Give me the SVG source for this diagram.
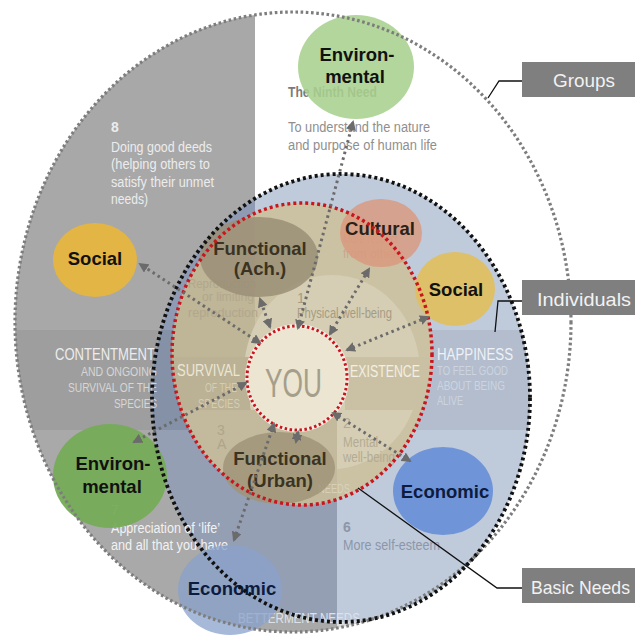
<svg xmlns="http://www.w3.org/2000/svg" width="635" height="640" viewBox="0 0 635 640">
<style>
.bg{font-family:"Liberation Sans Narrow","Liberation Sans",Arial,sans-serif}
.nl{font-family:"Liberation Sans",Arial,sans-serif;font-weight:bold;font-size:18.5px;text-anchor:middle;fill:#111}
.fn{fill:#3b3322}
.ec{fill:#0d1b3e}
.cl{font-family:"Liberation Sans",Arial,sans-serif;font-size:19px;fill:#f2f2f2}
.box{fill:#7f7f7f}
.lead{fill:none;stroke:#111;stroke-width:1.3}
.conn{fill:none;stroke:#6b6b6b;stroke-width:3;stroke-dasharray:2.5 3.5;marker-end:url(#ah);marker-start:url(#ah)}
</style>
<defs>
<clipPath id="cOuter"><ellipse cx="293" cy="322" rx="278" ry="310"/></clipPath>
<clipPath id="cBlack"><ellipse cx="341" cy="398" rx="189" ry="224"/></clipPath>
<clipPath id="cRed"><ellipse cx="302" cy="354" rx="130" ry="151"/></clipPath>
<marker id="ah" viewBox="0 0 10 10" refX="8" refY="5" markerWidth="10" markerHeight="10" markerUnits="userSpaceOnUse" orient="auto-start-reverse"><path d="M0,0 L10,5 L0,10 z" fill="#6b6b6b"/></marker>
</defs>
<rect width="635" height="640" fill="#ffffff"/>
<g id="background">
<g clip-path="url(#cOuter)">
<rect x="0" y="0" width="255" height="330" fill="#a8a8a8"/>
<rect x="0" y="330" width="255" height="100" fill="#9e9e9e"/>
<rect x="0" y="430" width="337" height="210" fill="#a9a9a9"/>
<rect x="337" y="560" width="120" height="80" fill="#dadada"/>
</g>
<g clip-path="url(#cBlack)">
<rect x="150" y="170" width="390" height="460" fill="#bfcadb"/>
<rect x="337" y="330" width="200" height="100" fill="#b3bdcd"/>
<rect x="150" y="170" width="105" height="260" fill="#8e9bb2"/>
<rect x="150" y="330" width="105" height="100" fill="#8491a6"/>
<rect x="150" y="430" width="187" height="200" fill="#959fb4"/>
</g>
<g clip-path="url(#cRed)">
<rect x="170" y="200" width="265" height="310" fill="#cbc1a3"/>
<rect x="170" y="200" width="85" height="210" fill="#bfb597"/>
<ellipse cx="332" cy="372" rx="88" ry="97" fill="#d6ceb4"/>
<rect x="170" y="410" width="167" height="100" fill="#c3b99c"/>
<rect x="170" y="357" width="80" height="53" fill="#bbb194"/>
<rect x="345" y="357" width="90" height="53" fill="#cac1a4"/>
</g>
<ellipse cx="297" cy="378" rx="50" ry="52" fill="#ebe5d1"/>
</g>
<g id="bg-texts" class="bg">
<text x="288" y="97" font-size="14" font-weight="bold" fill="#7a7a7a" textLength="89" lengthAdjust="spacingAndGlyphs">The Ninth Need</text>
<text x="288" y="132" font-size="14" fill="#8f8f8f" textLength="142" lengthAdjust="spacingAndGlyphs">To understand the nature</text>
<text x="288" y="150" font-size="14" fill="#8f8f8f" textLength="149" lengthAdjust="spacingAndGlyphs">and purpose of human life</text>
<g fill="#ececec" font-size="14">
<text x="111" y="132" font-weight="bold">8</text>
<text x="111" y="152" textLength="101" lengthAdjust="spacingAndGlyphs">Doing good deeds</text>
<text x="111" y="169" textLength="99" lengthAdjust="spacingAndGlyphs">(helping others to</text>
<text x="111" y="187" textLength="103" lengthAdjust="spacingAndGlyphs">satisfy their unmet</text>
<text x="111" y="204" textLength="37" lengthAdjust="spacingAndGlyphs">needs)</text>
</g>
<text x="55" y="360" font-size="16" fill="#ededed" textLength="100" lengthAdjust="spacingAndGlyphs">CONTENTMENT</text>
<g fill="#d6d6d6" font-size="13">
<text x="81" y="376" textLength="76" lengthAdjust="spacingAndGlyphs">AND ONGOING</text>
<text x="68" y="392" textLength="89" lengthAdjust="spacingAndGlyphs">SURVIVAL OF THE</text>
<text x="114" y="408" textLength="43" lengthAdjust="spacingAndGlyphs">SPECIES</text>
</g>
<text x="177" y="376" font-size="16" fill="#ebe6d6" textLength="63" lengthAdjust="spacingAndGlyphs">SURVIVAL</text>
<text x="205" y="392" font-size="13" fill="#d5cdb6" textLength="32" lengthAdjust="spacingAndGlyphs">OF THE</text>
<text x="198" y="408" font-size="13" fill="#d5cdb6" textLength="42" lengthAdjust="spacingAndGlyphs">SPECIES</text>
<text x="350" y="377" font-size="16" fill="#f3efe2" textLength="70" lengthAdjust="spacingAndGlyphs">EXISTENCE</text>
<text x="437" y="360" font-size="16" fill="#eef1f6" textLength="76" lengthAdjust="spacingAndGlyphs">HAPPINESS</text>
<g fill="#cdd4e0" font-size="13">
<text x="437" y="375" textLength="71" lengthAdjust="spacingAndGlyphs">TO FEEL GOOD</text>
<text x="437" y="390" textLength="68" lengthAdjust="spacingAndGlyphs">ABOUT BEING</text>
<text x="437" y="405" textLength="26" lengthAdjust="spacingAndGlyphs">ALIVE</text>
</g>
<text x="297" y="303" font-size="14" fill="#a59c83">1</text>
<text x="297" y="318" font-size="14" fill="#a59c83" textLength="95" lengthAdjust="spacingAndGlyphs">Physical well-being</text>
<g fill="#b1a78c" font-size="13">
<text x="188" y="288" textLength="68" lengthAdjust="spacingAndGlyphs">Reproduction</text>
<text x="202" y="301" textLength="52" lengthAdjust="spacingAndGlyphs">or limiting</text>
<text x="188" y="317" textLength="70" lengthAdjust="spacingAndGlyphs">reproduction</text>
</g>
<text x="343" y="243" font-size="13" fill="#c8a890" textLength="55" lengthAdjust="spacingAndGlyphs">More respect</text>
<text x="343" y="258" font-size="13" fill="#c8a890" textLength="60" lengthAdjust="spacingAndGlyphs">from others</text>
<g fill="#b3ab93" font-size="14">
<text x="343" y="428">2</text>
<text x="343" y="447" textLength="35" lengthAdjust="spacingAndGlyphs">Mental</text>
<text x="343" y="462" textLength="52" lengthAdjust="spacingAndGlyphs">well-being</text>
</g>
<text x="217" y="435" font-size="14" fill="#ada58c">3</text>
<text x="217" y="449" font-size="14" fill="#ada58c">A</text>
<text x="318" y="493" font-size="13" fill="#e0d9c4" opacity="0.7" textLength="32" lengthAdjust="spacingAndGlyphs">NEEDS</text>
<g fill="#f2f2f2" font-size="14">
<text x="111" y="515">7</text>
<text x="111" y="533" textLength="109" lengthAdjust="spacingAndGlyphs">Appreciation of ‘life’</text>
<text x="111" y="550" textLength="117" lengthAdjust="spacingAndGlyphs">and all that you have</text>
</g>
<g fill="#8d96a8" font-size="14">
<text x="343" y="532" font-weight="bold">6</text>
<text x="343" y="550" textLength="97" lengthAdjust="spacingAndGlyphs">More self-esteem</text>
</g>
<text x="238" y="623" font-size="14" fill="#dde2ea" textLength="122" lengthAdjust="spacingAndGlyphs">BETTERMENT NEEDS</text>
<text x="265" y="397" font-size="40" fill="#a59e8a" textLength="57" lengthAdjust="spacingAndGlyphs">YOU</text>
</g>
<g id="node-env-top">
<ellipse cx="356" cy="67" rx="58" ry="52" fill="#a9d08e" opacity="0.88"/>
<text class="nl" x="357" y="61">Environ-</text>
<text class="nl" x="355" y="83">mental</text>
</g>
<g id="node-social-left">
<ellipse cx="95" cy="260" rx="42" ry="37" fill="#e2b544"/>
<text class="nl" x="95" y="265">Social</text>
</g>
<g id="node-functional-ach">
<ellipse cx="259" cy="257" rx="59" ry="40" fill="#9a8f77" opacity="0.85"/>
<text class="nl fn" x="260" y="255">Functional</text>
<text class="nl fn" x="260" y="275">(Ach.)</text>
</g>
<g id="node-cultural">
<ellipse cx="381" cy="233" rx="41" ry="34" fill="#d9997e" opacity="0.82"/>
<text class="nl" x="380" y="235" style="fill:#2a2118">Cultural</text>
</g>
<g id="node-social-right">
<ellipse cx="455" cy="289" rx="40" ry="37" fill="#dfbf62" opacity="0.95"/>
<text class="nl" x="456" y="296">Social</text>
</g>
<g id="node-env-left">
<ellipse cx="110" cy="476" rx="57" ry="52" fill="#76ab58" opacity="0.95"/>
<text class="nl" x="113" y="470">Environ-</text>
<text class="nl" x="112" y="493">mental</text>
</g>
<g id="node-functional-urban">
<ellipse cx="279" cy="468" rx="56" ry="36" fill="#a09479" opacity="0.85"/>
<text class="nl fn" x="280" y="465">Functional</text>
<text class="nl fn" x="280" y="487">(Urban)</text>
</g>
<g id="node-economic-right">
<ellipse cx="443" cy="491" rx="50" ry="44" fill="#6f95d8"/>
<text class="nl ec" x="445" y="498">Economic</text>
</g>
<g id="node-economic-bottom">
<ellipse cx="230" cy="590" rx="52" ry="45" fill="#8aa1cb" opacity="0.75"/>
<text class="nl ec" x="232" y="595">Economic</text>
</g>
<g id="boundaries" fill="none">
<ellipse cx="293" cy="322" rx="278" ry="310" stroke="#7d7d7d" stroke-width="3.2" stroke-dasharray="2.6 2.6"/>
<ellipse cx="341" cy="398" rx="189" ry="224" stroke="#111" stroke-width="3.8" stroke-dasharray="3 3"/>
<ellipse cx="302" cy="354" rx="130" ry="151" stroke="#c8161e" stroke-width="3.5" stroke-dasharray="3 3"/>
<ellipse cx="297" cy="378" rx="50" ry="52" stroke="#f4eee2" stroke-width="4"/>
<ellipse cx="297" cy="378" rx="50" ry="52" stroke="#c8161e" stroke-width="3" stroke-dasharray="2.5 2.5"/>
</g>
<g id="connectors">
<path class="conn" d="M298,328 L353,122"/>
<path class="conn" d="M270,327 L260,299"/>
<path class="conn" d="M260,343 L140,264"/>
<path class="conn" d="M330,334 L369,269"/>
<path class="conn" d="M347,350 L428,317"/>
<path class="conn" d="M246,383 L134,442"/>
<path class="conn" d="M274,424 L234,540"/>
<path class="conn" d="M298,432 L296,442"/>
<path class="conn" d="M333,413 L410,461"/>
</g>
<g id="callouts">
<polyline class="lead" points="488,98 499,81 522,81"/>
<rect class="box" x="522" y="62" width="113" height="35"/>
<text class="cl" x="553" y="87" textLength="62" lengthAdjust="spacingAndGlyphs">Groups</text>
<polyline class="lead" points="522,301 498,301 495,332"/>
<rect class="box" x="522" y="280" width="113" height="35"/>
<text class="cl" x="537" y="306" textLength="94" lengthAdjust="spacingAndGlyphs">Individuals</text>
<polyline class="lead" points="358,488 497,588 522,588"/>
<rect class="box" x="522" y="568" width="113" height="35"/>
<text class="cl" x="531" y="594" textLength="99" lengthAdjust="spacingAndGlyphs">Basic Needs</text>
</g>
</svg>
